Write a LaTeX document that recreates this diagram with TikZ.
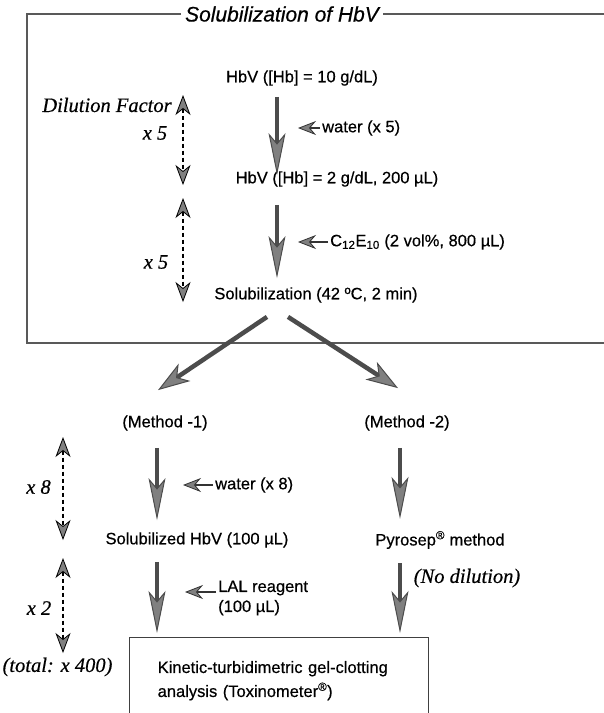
\documentclass[tikz,border=0pt]{standalone}
\usepackage{fontspec}
\setmainfont{Liberation Sans}[FakeBold=0.5]
\newfontfamily\timesfont{Liberation Serif}[FakeBold=0.5]
\usetikzlibrary{positioning}
\usetikzlibrary{arrows.meta}

\begin{document}
\begin{tikzpicture}[x=1pt,y=-1pt,
    txt/.style={font=\fontsize{16.5}{20}\selectfont, inner sep=2pt},
    note/.style={font=\timesfont\itshape\fontsize{20.5}{22}\selectfont, inner sep=1pt},
    frame/.style={draw=black!65, line width=2.6pt},
    bigflow/.style={draw=black!70, line width=4pt,
      -{Stealth[length=42pt,width=17pt,inset=10pt,fill=black!50,line width=1pt]}},
    forkflow/.style={draw=black!70, line width=4.5pt,
      -{Stealth[length=32pt,width=21pt,inset=9pt,fill=black!50,line width=1pt]}},
    sideflow/.style={draw=black!80, line width=1.5pt,
      -{Stealth[length=18pt,width=14pt,inset=6pt,fill=black!50,line width=0.8pt]}},
    dilflow/.style={draw=black, line width=1.8pt, dash pattern=on 4pt off 3pt,
      {Stealth[length=20pt,width=15pt,inset=6pt,fill=black!50,line width=0.8pt]}-{Stealth[length=20pt,width=15pt,inset=6pt,fill=black!50,line width=0.8pt]}}]
  \useasboundingbox (0,0) rectangle (604,713);

  % frame round the solubilization step
  \node[font=\itshape\fontsize{21}{24}\selectfont, inner sep=4pt] (title) at (282,14) {Solubilization of HbV};
  \draw[frame] (title.west) -- (27,14) -- (27,343) -- (620,343);
  \draw[frame] (title.east) -- (620,14);

  % main steps
  \node[txt] (hb10) at (302,78) {HbV ([Hb] = 10 g/dL)};
  \node[txt] (hb2) at (337,179) {HbV ([Hb] = 2 g/dL, 200 µL)};
  \node[txt] (solub) at (316,295) {Solubilization (42 ºC, 2 min)};
  \node[txt, anchor=west] (w5) at (320,128) {water (x 5)};
  \node[txt, anchor=west] (c12) at (328,242) {C\textsubscript{12}E\textsubscript{10} (2 vol\%, 800 µL)};

  \node[txt] (m1) at (165,423) {(Method -1)};
  \node[txt] (m2) at (407,423) {(Method -2)};
  \node[txt] (shv) at (197,540) {Solubilized HbV (100 µL)};
  \node[txt] (pyro) at (440,540) {Pyrosep\textsuperscript{®} method};
  \node[txt, anchor=west] (w8) at (213,485) {water (x 8)};
  \node[txt, anchor=west, align=left] (lal) at (216,598) {LAL reagent\\(100 µL)};
  \node[txt, draw=black!75, line width=1.4pt, anchor=north west, minimum width=299pt,
    minimum height=86pt, text width=243pt, inner xsep=28pt, align=left,
    font=\fontsize{16.5}{24}\selectfont] (box) at (129,637)
    {Kinetic-turbidimetric gel-clotting\\analysis (Toxinometer\textsuperscript{®})};

  % dilution notes
  \node[note] (dil) at (107,105) {Dilution Factor};
  \node[note] (x5a) at (155,133) {x 5};
  \node[note] (x5b) at (156,262) {x 5};
  \node[note] (x8) at (38.5,487) {x 8};
  \node[note] (x2) at (39,608) {x 2};
  \node[note] (total) at (57.5,667) {(total: x 400)};
  \node[note] (nodil) at (467,578) {(No dilution)};

  \coordinate (spine) at (277,0);
  \coordinate (lspine) at (157,0);
  \coordinate (rspine) at (400,0);

  % flow arrows
  \draw[bigflow, shorten <=9pt, shorten >=-6pt] (hb10.south -| spine) -- (hb2.north -| spine);
  \draw[bigflow, shorten <=16pt, shorten >=7pt] (hb2.south -| spine) -- (solub.north -| spine);
  \draw[forkflow] ([shift={(-49,12)}]solub.south) -- ([shift={(-7,-23)}]m1.north);
  \draw[forkflow] ([shift={(-28,12)}]solub.south) -- ([shift={(-9,-25)}]m2.north);
  \draw[bigflow, shorten <=15pt, shorten >=10pt] (m1.south -| lspine) -- (shv.north -| lspine);
  \draw[bigflow, shorten <=12pt, shorten >=4pt] (shv.south -| lspine) -- (box.north -| lspine);
  \draw[bigflow, shorten <=15pt, shorten >=10pt] (m2.south -| rspine) -- (pyro.north -| rspine);
  \draw[bigflow, shorten <=12pt, shorten >=4pt] (pyro.south -| rspine) -- (box.north -| rspine);

  % added reagents
  \draw[sideflow] (w5.west) -- ++(-22,0);
  \draw[sideflow] (c12.west) -- ++(-30,0);
  \draw[sideflow] (w8.west) -- ++(-30,0);
  \draw[sideflow] ([shift={(0,-6)}]lal.west) -- ++(-31,0);

  % dilution factors
  \coordinate (d1a) at (183,95);  \coordinate (d1b) at (183,185);
  \coordinate (d2a) at (183,198); \coordinate (d2b) at (183,302);
  \coordinate (d3a) at (63,437);  \coordinate (d3b) at (63,540);
  \coordinate (d4a) at (63,558);  \coordinate (d4b) at (63,653);
  \draw[dilflow] (d1a) -- (d1b);
  \draw[dilflow] (d2a) -- (d2b);
  \draw[dilflow] (d3a) -- (d3b);
  \draw[dilflow] (d4a) -- (d4b);
\end{tikzpicture}
\end{document}
